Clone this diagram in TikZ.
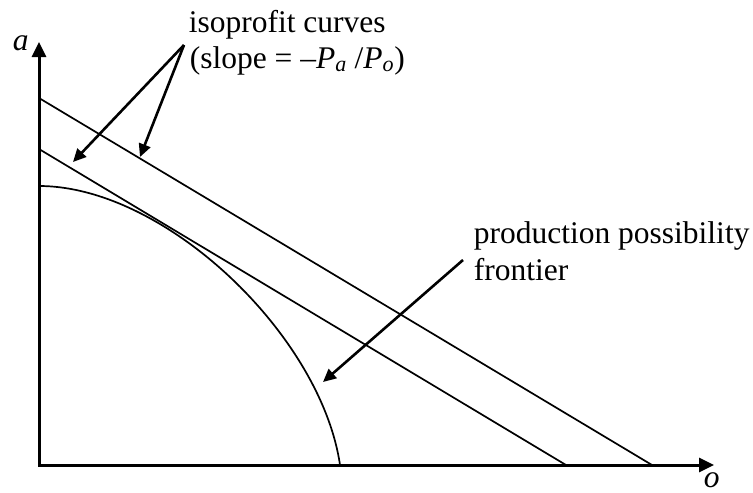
\documentclass[tikz,border=0pt]{standalone}
\usepackage{fontspec}
\setmainfont{Liberation Serif}
\usetikzlibrary{arrows.meta}
\begin{document}
\begin{tikzpicture}[x=1pt, y=-1pt, line width=1.7pt,
        font=\fontsize{31.5}{36}\selectfont,
        axis/.style={line width=3pt, line join=miter,
            {Triangle[length=15pt,width=14pt]}-{Triangle[length=15pt,width=14pt]}},
        pointer/.style={line width=2.6pt, -{Triangle[length=13pt,width=12pt]}},
        lbl/.style={anchor=base west, inner sep=0pt}]
        \useasboundingbox (0,0) rectangle (753,493);

        % axes
        \coordinate (O) at (39,465);
        \coordinate (aTip) at (39,42);
        \coordinate (oTip) at (714,465);
        \draw[axis] (aTip) -- (O) -- (oTip);
        \node[lbl] (aLabel) at (12,50) {\textit{a}};
        \node[lbl] (oLabel) at (703,487) {\textit{o}};

        % isoprofit lines and frontier
        \coordinate (hiA) at (39,98);
        \coordinate (hiO) at (652,465);
        \coordinate (loA) at (39,149);
        \coordinate (loO) at (566,465);
        \coordinate (ppfA) at (39,186);
        \coordinate (ppfO) at (340,465);
        \draw (hiA) -- (hiO);
        \draw (loA) -- (loO);
        \draw (ppfA) .. controls (165,186) and (321,335) .. (ppfO);

        % labels
        \node[lbl] (isoText) at (188,32) {isoprofit curves};
        \node[lbl] (slopeText) at (189,68)
            {(slope = –\textit{P}\textsubscript{\textit{a}} /\textit{P}\textsubscript{\textit{o}})};
        \node[lbl] (ppfText) at (473,243) {production possibility};
        \node[lbl] (frontText) at (473,280) {frontier};

        \coordinate (isoFrom) at (184,45);
        \coordinate (loTip) at (73,162);
        \coordinate (hiTip) at (140,157);
        \coordinate (ppfFrom) at (463,260);
        \coordinate (ppfTip) at (323,382);
        \draw[pointer] (isoFrom) -- (loTip);
        \draw[pointer] (isoFrom) -- (hiTip);
        \draw[pointer] (ppfFrom) -- (ppfTip);
    \end{tikzpicture}
\end{document}
